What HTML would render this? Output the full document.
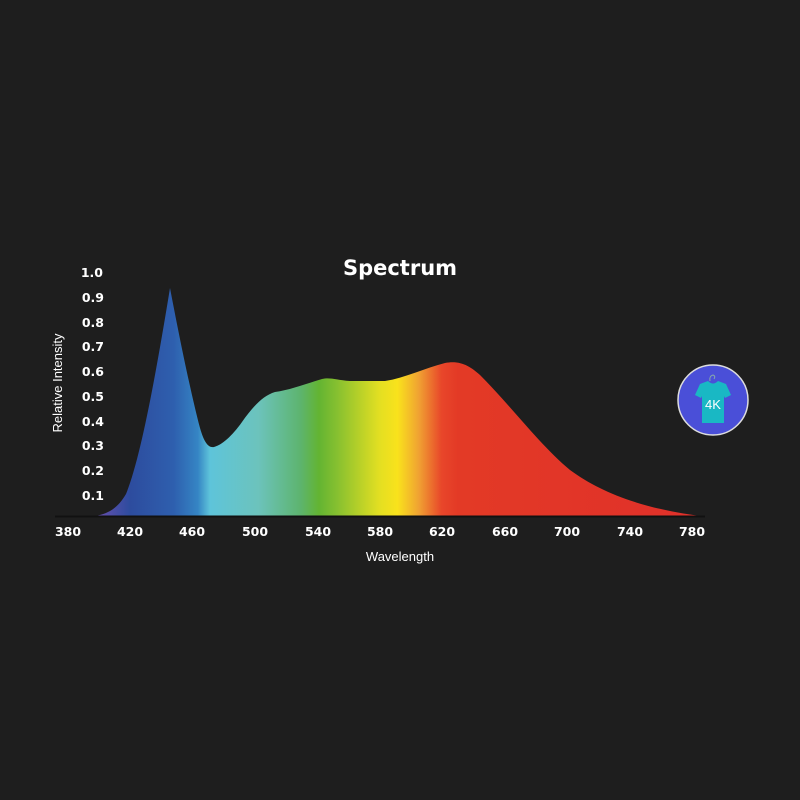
<!DOCTYPE html>
<html><head><meta charset="utf-8"><style>
html,body{margin:0;padding:0;background:#1e1e1e;}
svg{display:block;font-family:"Liberation Sans",sans-serif;}
</style></head><body>
<svg width="800" height="800" viewBox="0 0 800 800">
<rect width="800" height="800" fill="#1e1e1e"/>
<defs>
<linearGradient id="g" gradientUnits="userSpaceOnUse" x1="95" y1="0" x2="700" y2="0">
<stop offset="0" stop-color="#6b4fb0"/>
<stop offset="0.058" stop-color="#2d4c9e"/>
<stop offset="0.13" stop-color="#2e5fae"/>
<stop offset="0.17" stop-color="#3585c4"/>
<stop offset="0.19" stop-color="#5ec4da"/>
<stop offset="0.27" stop-color="#6cc3bc"/>
<stop offset="0.34" stop-color="#5db46e"/>
<stop offset="0.37" stop-color="#63b432"/>
<stop offset="0.40" stop-color="#86c030"/>
<stop offset="0.47" stop-color="#e3df22"/>
<stop offset="0.50" stop-color="#f9e21c"/>
<stop offset="0.535" stop-color="#f0a232"/>
<stop offset="0.573" stop-color="#e8462a"/>
<stop offset="0.60" stop-color="#e33a26"/>
<stop offset="1" stop-color="#e0302a"/>
</linearGradient>
</defs>
<path fill="url(#g)" d="M95,516 C108,514 118,508 126,494 C140,460 155,380 170,288 C178,330 190,390 200,428 C204,442 208,448 214,447 C222,445 232,436 242,422 C252,408 262,396 275,392 C290,390 305,384 322,379 C330,377 336,380 350,381 L385,381 C405,378 425,368 445,363 C460,360 470,366 480,375 C510,405 540,445 570,470 C600,492 640,508 700,516 Z"/>
<line x1="55" y1="516.5" x2="705" y2="516.5" stroke="#111" stroke-width="2"/>
<text x="400" y="275" fill="#fff" font-size="21" font-weight="bold" text-anchor="middle" font-family="DejaVu Sans, sans-serif">Spectrum</text>
<g fill="#fff" font-size="12.5" font-weight="bold" text-anchor="end" font-family="DejaVu Sans, sans-serif">
<text x="103" y="277">1.0</text><text x="104" y="302">0.9</text><text x="104" y="327">0.8</text>
<text x="104" y="351">0.7</text><text x="104" y="376">0.6</text><text x="104" y="401">0.5</text>
<text x="104" y="426">0.4</text><text x="104" y="450">0.3</text><text x="104" y="475">0.2</text>
<text x="104" y="500">0.1</text>
</g>
<g fill="#fff" font-size="12.5" font-weight="bold" text-anchor="middle" font-family="DejaVu Sans, sans-serif">
<text x="68" y="536">380</text><text x="130" y="536">420</text><text x="192" y="536">460</text>
<text x="255" y="536">500</text><text x="318" y="536">540</text><text x="380" y="536">580</text>
<text x="442" y="536">620</text><text x="505" y="536">660</text><text x="567" y="536">700</text>
<text x="630" y="536">740</text><text x="692" y="536">780</text>
</g>
<text x="400" y="561" fill="#fff" font-size="13" text-anchor="middle">Wavelength</text>
<text transform="translate(62,383) rotate(-90)" fill="#fff" font-size="13" text-anchor="middle">Relative Intensity</text>
<circle cx="713" cy="400" r="35" fill="#4a4fd8" stroke="#ddd" stroke-width="1.5"/>
<path d="M700,384 L708,381 Q713,386 718,381 L726,384 L731,395 L725,398 L724,396 L724,423 L702,423 L702,396 L701,398 L695,395 Z" fill="#19b8c4"/>
<path d="M710,381 Q709,376 713,375 Q716,376 714,379" fill="none" stroke="#8aa" stroke-width="1"/>
<text x="713" y="409" fill="#fff" font-size="13" text-anchor="middle">4K</text>
</svg>
</body></html>
